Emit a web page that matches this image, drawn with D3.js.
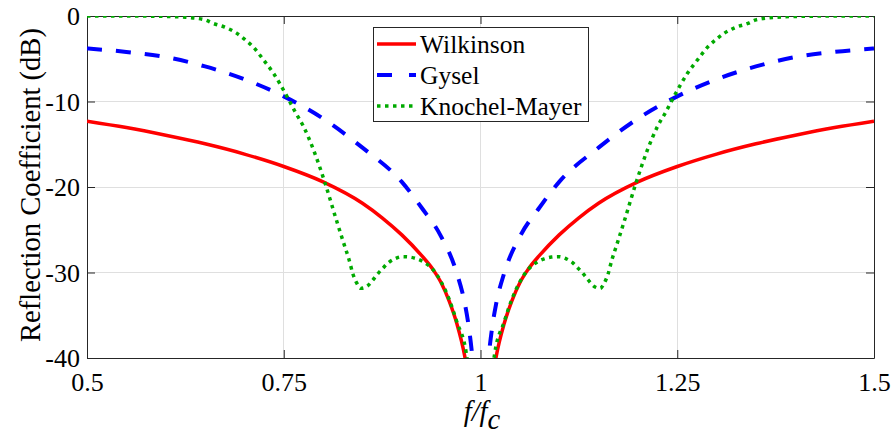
<!DOCTYPE html>
<html><head><meta charset="utf-8">
<script src="https://cdn.jsdelivr.net/npm/d3@7"></script>
<style>body{margin:0;background:#fff}svg{display:block}
svg text{font-family:"Times New Roman","Liberation Serif","DejaVu Serif",serif !important;}</style>
</head><body><svg id="c" width="893" height="441"></svg>
<script>
const xTicks = [0.5, 0.75, 1, 1.25, 1.5];
const yTicks = [0, -10, -20, -30, -40];
const xTickLabels = ["0.5", "0.75", "1", "1.25", "1.5"];
const yTickLabels = ["0", "-10", "-20", "-30", "-40"];
const seriesNames = ["Wilkinson", "Gysel", "Knochel-Mayer"];

const wilkF = [0.50,0.55,0.60,0.65,0.70,0.75,0.80,0.85,0.875,0.90,0.925,0.94,0.95,0.96,0.97,0.98,0.99,1.00,1.01,1.02,1.03,1.04,1.05,1.06,1.075,1.10,1.125,1.15,1.20,1.25,1.30,1.35,1.40,1.45,1.50];
const wilkDB = [-12.3,-13.05,-13.95,-14.95,-16.15,-17.6,-19.4,-21.9,-23.6,-25.6,-28.0,-29.7,-31.2,-33.3,-36.0,-39.8,-46,-60,-46,-39.8,-36.0,-33.3,-31.2,-29.7,-28.0,-25.6,-23.6,-21.9,-19.4,-17.6,-16.15,-14.95,-13.95,-13.05,-12.3];

const gyselF = [0.50,0.55,0.60,0.65,0.70,0.75,0.80,0.85,0.90,0.925,0.95,0.97,0.98,0.985,0.99,0.995,1.00,1.005,1.01,1.015,1.02,1.03,1.05,1.075,1.10,1.15,1.20,1.25,1.30,1.35,1.40,1.45,1.50];
const gyselDB = [-3.8,-4.2,-4.8,-5.9,-7.4,-9.4,-12.0,-15.4,-19.4,-22.4,-25.8,-30.1,-33.6,-36.3,-40.2,-46,-60,-46,-40.2,-36.3,-33.6,-30.1,-25.8,-22.4,-19.4,-15.4,-12.0,-9.4,-7.4,-5.9,-4.8,-4.2,-3.8];

const kmF = [0.50,0.55,0.60,0.625,0.65,0.66,0.675,0.69,0.70,0.711,0.724,0.737,0.752,0.765,0.775,0.788,0.802,0.817,0.827,0.833,0.838,0.842,0.848,0.856,0.863,0.869,0.876,0.883,0.891,0.901,0.910,0.919,0.93,0.94,0.95,0.96,0.97,0.982,0.99,1.00,1.01,1.018,1.03,1.04,1.05,1.06,1.07,1.081,1.09,1.099,1.109,1.117,1.124,1.131,1.137,1.144,1.152,1.158,1.162,1.167,1.173,1.183,1.198,1.212,1.225,1.235,1.248,1.263,1.276,1.289,1.30,1.31,1.325,1.34,1.35,1.375,1.40,1.45,1.50];
const kmDB = [0.0,0.0,-0.05,-0.15,-0.45,-0.86,-1.3,-2.0,-2.7,-3.6,-5.1,-6.7,-9.05,-11.3,-12.9,-15.7,-19.4,-23.9,-26.8,-28.5,-30.2,-31.1,-31.85,-31.6,-30.9,-30.2,-29.5,-28.85,-28.4,-28.15,-28.2,-28.4,-28.9,-29.7,-31.1,-33.1,-35.8,-39.5,-46,-60,-46,-39.5,-35.8,-33.1,-31.1,-29.7,-28.9,-28.4,-28.2,-28.15,-28.4,-28.85,-29.5,-30.2,-30.9,-31.6,-31.85,-31.1,-30.2,-28.5,-26.8,-23.9,-19.4,-15.7,-12.9,-11.3,-9.05,-6.7,-5.1,-3.6,-2.7,-2.0,-1.3,-0.86,-0.45,-0.15,-0.05,0.0,0.0];

const L = 87, R = 874, T = 16, B = 358;
const svg = d3.select("#c");
const x = d3.scaleLinear().domain([0.5, 1.5]).range([L, R]);
const y = d3.scaleLinear().domain([-40, 0]).range([B, T]);
const axisCol = "#262626";

// grid
const g = svg.append("g");
g.selectAll(".gx").data(xTicks).enter().append("line")
  .attr("x1", d => x(d)).attr("x2", d => x(d)).attr("y1", T).attr("y2", B)
  .attr("stroke", "#dfdfdf").attr("stroke-width", 1).attr("shape-rendering","crispEdges");
g.selectAll(".gy").data(yTicks).enter().append("line")
  .attr("y1", d => y(d)).attr("y2", d => y(d)).attr("x1", L).attr("x2", R)
  .attr("stroke", "#dfdfdf").attr("stroke-width", 1).attr("shape-rendering","crispEdges");

// axes (inward ticks)
const ax = d3.axisBottom(x).tickValues(xTicks).tickSizeInner(-8).tickSizeOuter(0)
  .tickFormat((d, i) => xTickLabels[i]);
const gx = svg.append("g").attr("transform", `translate(0,${B})`).call(ax);
const axT = d3.axisTop(x).tickValues(xTicks).tickSizeInner(-8).tickSizeOuter(0).tickFormat("");
svg.append("g").attr("transform", `translate(0,${T})`).call(axT);
const ay = d3.axisLeft(y).tickValues(yTicks).tickSizeInner(-8).tickSizeOuter(0)
  .tickFormat((d, i) => yTickLabels[i]);
const gy = svg.append("g").attr("transform", `translate(${L},0)`).call(ay);
const ayR = d3.axisRight(y).tickValues(yTicks).tickSizeInner(-8).tickSizeOuter(0).tickFormat("");
svg.append("g").attr("transform", `translate(${R},0)`).call(ayR);
svg.selectAll("g").attr("font-family", null);
svg.selectAll(".domain").attr("stroke", axisCol).attr("stroke-width", 1);
svg.selectAll(".tick line").attr("stroke", axisCol).attr("stroke-width", 1);
svg.selectAll(".tick text").attr("font-size", 26).attr("fill", "#000");
gx.selectAll(".tick text").attr("y", 15).attr("dy", "0.71em");
gy.selectAll(".tick text").attr("x", -7).attr("dy", "0.34em");

// clip
svg.append("defs").append("clipPath").attr("id", "clip")
  .append("rect").attr("x", L).attr("y", T).attr("width", R - L).attr("height", B - T);

const line = d3.line().x(d => x(d[0])).y(d => y(d[1])).curve(d3.curveMonotoneX);
const plot = svg.append("g").attr("clip-path", "url(#clip)");
const styles = [
  {color: "#ff0000", w: 3.5, dash: null},
  {color: "#0000ff", w: 4, dash: "15,14"},
  {color: "#00aa00", w: 3.5, dash: "3.5,4.5"}
];
const data = [d3.zip(wilkF, wilkDB), d3.zip(gyselF, gyselDB), d3.zip(kmF, kmDB)];
data.forEach((d, i) => {
  plot.append("path").datum(d).attr("d", line).attr("fill", "none")
    .attr("stroke", styles[i].color).attr("stroke-width", styles[i].w)
    .attr("stroke-dasharray", styles[i].dash);
});

// legend
const lg = svg.append("g");
lg.append("rect").attr("x", 373.5).attr("y", 27.5).attr("width", 215).attr("height", 94)
  .attr("fill", "#fff").attr("stroke", axisCol).attr("stroke-width", 1);
seriesNames.forEach((n, i) => {
  const yy = 44 + i * 31;
  lg.append("line").attr("x1", 377).attr("x2", 416).attr("y1", yy).attr("y2", yy)
    .attr("stroke", styles[i].color).attr("stroke-width", styles[i].w)
    .attr("stroke-dasharray", i === 1 ? "15,17" : styles[i].dash);
  lg.append("text").attr("x", 420).attr("y", yy).attr("dy", "0.35em")
    .attr("font-size", 25.5).text(n);
});

// axis labels
svg.append("text").attr("transform", "translate(40,185) rotate(-90)")
  .attr("text-anchor", "middle").attr("font-size", 28.6)
  .text("Reflection Coefficient (dB)");
const xl = svg.append("text").attr("x", 482).attr("y", 421).attr("text-anchor", "middle")
  .attr("font-size", 28.6).attr("font-style", "italic");
xl.append("tspan").text("f/f");
xl.append("tspan").attr("dy", 8).text("c");
</script></body></html>
